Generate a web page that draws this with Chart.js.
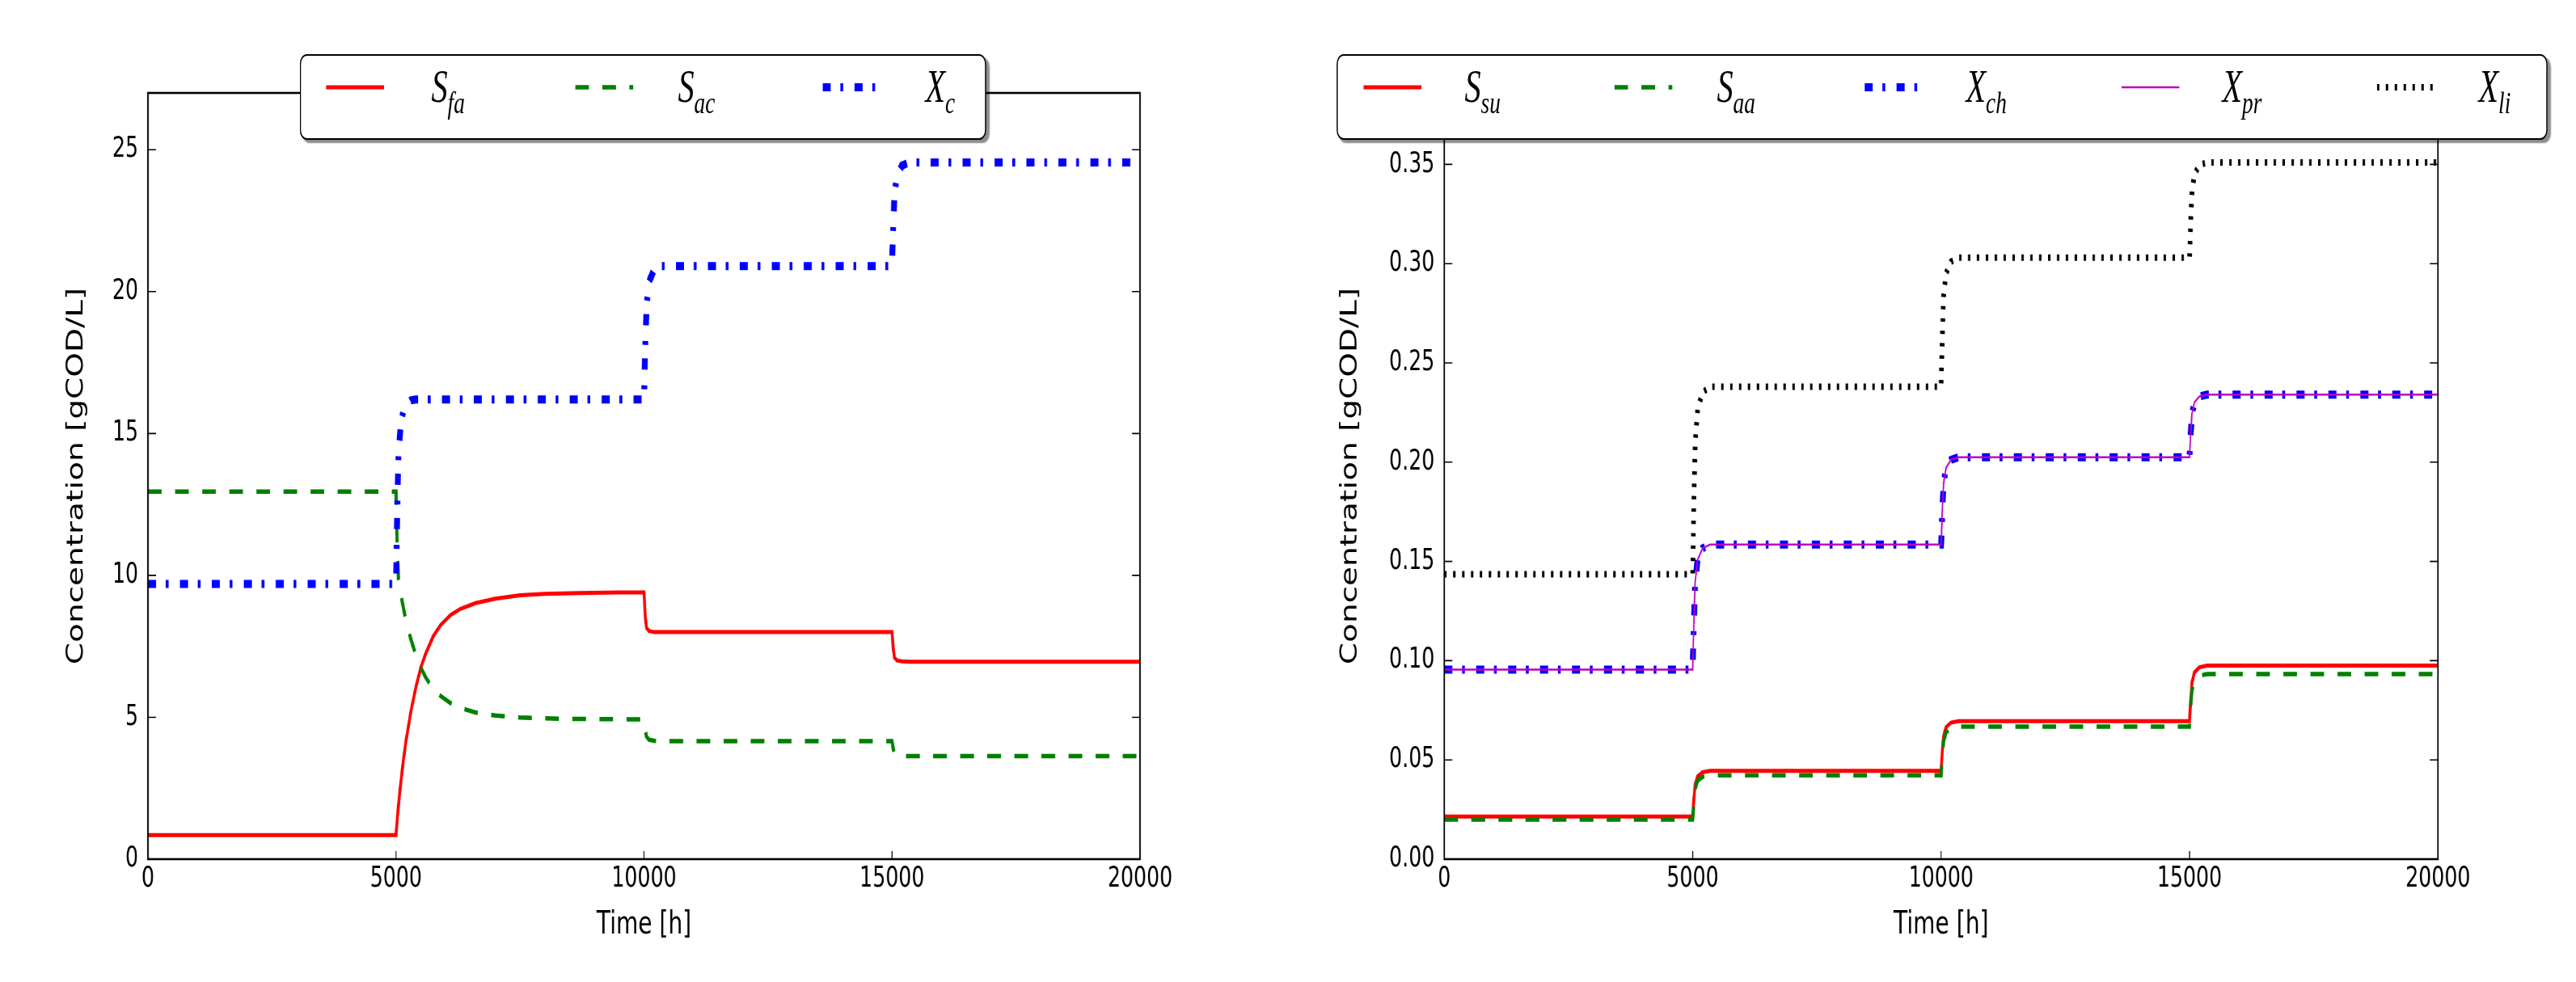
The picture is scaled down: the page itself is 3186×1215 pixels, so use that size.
<!DOCTYPE html>
<html>
<head>
<meta charset="utf-8">
<script src="https://cdn.jsdelivr.net/npm/chart.js@4.4.0/dist/chart.umd.min.js"></script>
<style>
html, body { margin: 0; padding: 0; background: #fff; overflow: hidden; }
#page { position: absolute; left: 0; top: 0; height: 1215px; transform-origin: 0 0; }
canvas { position: absolute; top: 0; }
.legend { position: absolute; top: 67px; height: 106px; background: #fff; border: 2.5px solid #000; border-radius: 12px; box-shadow: 5px 4px 2px rgba(0,0,0,0.45); box-sizing: border-box; }
.legend svg { position: absolute; top: 27px; }
.lab { position: absolute; top: 10px; font-family: "Liberation Serif", serif; font-style: italic; font-size: 56px; line-height: 56px; color: #000; white-space: nowrap; }
.lab span { font-size: 38px; position: relative; top: 14px; }
</style>
</head>
<body>
<div id="page">
  <canvas id="left"></canvas>
  <canvas id="right"></canvas>
  <div class="legend" id="legLeft"></div>
  <div class="legend" id="legRight"></div>
</div>
<script>
// ---- data ----
// left panel
var hoursL = [0, 5000, 5025, 5050, 5100, 5150, 5200, 5300, 5400, 5500, 5600, 5750, 5900, 6100, 6300, 6600, 7000, 7500, 8000, 8700, 9500,
              10000, 10025, 10050, 10100, 10200, 10350, 11000,
              15000, 15025, 15050, 15100, 15200, 15350, 20000];
var sFa = [0.85, 0.85, 1.4, 1.9, 2.75, 3.5, 4.15, 5.2, 6.05, 6.75, 7.25, 7.85, 8.25, 8.6, 8.82, 9.02, 9.18, 9.3, 9.35, 9.38, 9.4,
           9.4, 8.55, 8.15, 8.04, 8.0, 8.0, 8.0,
           8.0, 7.4, 7.1, 7.0, 6.97, 6.96, 6.96];
var sAc = [12.95, 12.95, 10.9, 9.85, 9.3, 8.85, 8.4, 7.75, 7.2, 6.75, 6.4, 6.0, 5.75, 5.5, 5.33, 5.17, 5.06, 4.99, 4.96, 4.94, 4.93,
           4.93, 4.55, 4.32, 4.21, 4.17, 4.16, 4.16,
           4.16, 3.88, 3.72, 3.66, 3.64, 3.63, 3.63];
var xC  = [9.7, 9.7, 12.3, 14.25, 15.4, 15.8, 16.0, 16.17, 16.2, 16.2, 16.2, 16.2, 16.2, 16.2, 16.2, 16.2, 16.2, 16.2, 16.2, 16.2, 16.2,
           16.2, 18.08, 19.49, 20.34, 20.76, 20.9, 20.9,
           20.9, 22.36, 23.46, 24.11, 24.44, 24.55, 24.55];

// right panel
var hoursR = [0, 5000, 5025, 5050, 5100, 5200, 5350,
              10000, 10025, 10050, 10100, 10200, 10350,
              15000, 15025, 15050, 15100, 15200, 15350, 20000];
var sSu = [0.0215, 0.0215, 0.0307, 0.0376, 0.0417, 0.0438, 0.0445,
           0.0445, 0.0545, 0.0620, 0.0665, 0.0688, 0.0695,
           0.0695, 0.0807, 0.0891, 0.0941, 0.0967, 0.0975, 0.0975];
var sAa = [0.0200, 0.0200, 0.0289, 0.0355, 0.0395, 0.0415, 0.0422,
           0.0422, 0.0520, 0.0594, 0.0638, 0.0661, 0.0668,
           0.0668, 0.0774, 0.0853, 0.0900, 0.0924, 0.0932, 0.0932];
var xCh = [0.0955, 0.0955, 0.1207, 0.1396, 0.1509, 0.1566, 0.1585,
           0.1585, 0.1761, 0.1893, 0.1972, 0.2012, 0.2025,
           0.2025, 0.2151, 0.2246, 0.2302, 0.2331, 0.2340, 0.2340];
var xPr = [0.0955, 0.0955, 0.1207, 0.1396, 0.1509, 0.1566, 0.1585,
           0.1585, 0.1761, 0.1893, 0.1972, 0.2012, 0.2025,
           0.2025, 0.2151, 0.2246, 0.2302, 0.2331, 0.2340, 0.2340];
var xLi = [0.1435, 0.1435, 0.1813, 0.2097, 0.2267, 0.2352, 0.2380,
           0.2380, 0.2640, 0.2835, 0.2952, 0.3010, 0.3030,
           0.3030, 0.3222, 0.3366, 0.3452, 0.3496, 0.3510, 0.3510];

// ticks
var xTicks = [0, 5000, 10000, 15000, 20000];
var yTicksL = [0, 5, 10, 15, 20, 25];
var yTicksR = [0, 0.05, 0.10, 0.15, 0.20, 0.25, 0.30, 0.35];

// ---- layout ----
// the reference figure is squeezed horizontally: draw wide, then scale x by K.
// all x positions below are in final (screen) pixels and get divided by K.
var K = 0.72;
var W = 3186, H = 1215;
var TOP = 115, BOTTOM = 1063;
var TICK_FONT = 35, TITLE_FONT = 39;
var FONT = "'DejaVu Sans', sans-serif";

var page = document.getElementById("page");
page.style.width = (W / K) + "px";
page.style.transform = "scaleX(" + K + ")";

// ---- styles (dash lengths in screen px) ----
var RED = { color: "#ff0000", width: 5, dash: [] };
var GREEN = { color: "#008000", width: 5.5, dash: [17, 16.5] };
var BLUE = { color: "#0000ff", width: 10, dash: [10, 12, 3.5, 14] };
var MAGENTA = { color: "#bf00bf", width: 2.5, dash: [] };
var BLACK = { color: "#000000", width: 8, dash: [3, 8] };

function dashL(d) { return d.map(function(v) { return v / K; }); }

function series(times, vals, sty, order) {
  return {
    data: times.map(function(t, i) { return { x: t, y: vals[i] }; }),
    borderColor: sty.color,
    borderWidth: sty.width,
    borderDash: dashL(sty.dash),
    pointRadius: 0,
    fill: false,
    tension: 0,
    order: order
  };
}

// box round the plot area with inward ticks on all four sides
var frame = {
  id: "frame",
  afterDraw: function(chart) {
    var ctx = chart.ctx, a = chart.chartArea, sx = chart.scales.x, sy = chart.scales.y;
    ctx.save();
    ctx.strokeStyle = "#000";
    ctx.lineWidth = 1.6;
    ctx.beginPath();
    sx.ticks.forEach(function(t) {
      var px = sx.getPixelForValue(t.value);
      ctx.moveTo(px, a.bottom); ctx.lineTo(px, a.bottom - 10);
      ctx.moveTo(px, a.top); ctx.lineTo(px, a.top + 10);
    });
    sy.ticks.forEach(function(t) {
      var py = sy.getPixelForValue(t.value);
      ctx.moveTo(a.left, py); ctx.lineTo(a.left + 10 / K, py);
      ctx.moveTo(a.right, py); ctx.lineTo(a.right - 10 / K, py);
    });
    ctx.stroke();
    ctx.lineWidth = 2.6;
    ctx.strokeRect(a.left, a.top, a.right - a.left, a.bottom - a.top);
    ctx.restore();
  }
};

// x0/x1: canvas span on screen; areaL/areaR: plot area; titleX: centre of the y title
function makeChart(id, x0, x1, areaL, areaR, titleX, datasets, yMax, yTicks, yFmt) {
  var cv = document.getElementById(id);
  var cw = Math.round((x1 - x0) / K);
  cv.width = cw; cv.height = H;
  cv.style.left = (x0 / K) + "px";
  var padL = (titleX - x0) / K - TITLE_FONT * 1.2 / 2;
  var axisW = (areaL - x0) / K - padL;
  var padR = cw - (areaR - x0) / K;
  return new Chart(cv, {
    type: "line",
    data: { datasets: datasets },
    options: {
      responsive: false,
      animation: false,
      devicePixelRatio: 1,
      layout: { padding: { left: padL, right: padR, top: TOP, bottom: 0 } },
      plugins: { legend: { display: false }, tooltip: { enabled: false } },
      scales: {
        x: {
          type: "linear", min: 0, max: 20000,
          afterBuildTicks: function(s) { s.ticks = xTicks.map(function(v) { return { value: v }; }); },
          afterFit: function(s) { s.height = H - BOTTOM; },
          ticks: { color: "#000", font: { family: FONT, size: TICK_FONT }, padding: 4, maxRotation: 0, autoSkip: false,
                   callback: function(v) { return String(v); } },
          grid: { display: false, drawTicks: false },
          border: { display: false },
          title: { display: true, text: "Time [h]", color: "#000", font: { family: FONT, size: TITLE_FONT }, padding: { top: 0, bottom: 47 } }
        },
        y: {
          type: "linear", min: 0, max: yMax,
          afterBuildTicks: function(s) { s.ticks = yTicks.map(function(v) { return { value: v }; }); },
          afterFit: function(s) { s.width = axisW; },
          ticks: { color: "#000", font: { family: FONT, size: TICK_FONT }, padding: 12 / K, autoSkip: false, callback: yFmt },
          grid: { display: false, drawTicks: false },
          border: { display: false },
          title: { display: true, text: "Concentration [gCOD/L]", color: "#000", font: { family: FONT, size: TITLE_FONT }, padding: { top: 0, bottom: 0 } }
        }
      }
    },
    plugins: [frame]
  });
}

makeChart("left", 0, 1560, 183, 1410, 95, [
  series(hoursL, sFa, RED, 3),
  series(hoursL, sAc, GREEN, 2),
  series(hoursL, xC, BLUE, 1)
], 27, yTicksL, function(v) { return String(v); });

makeChart("right", 1560, W, 1786, 3015, 1670, [
  series(hoursR, sSu, RED, 5),
  series(hoursR, sAa, GREEN, 4),
  series(hoursR, xCh, BLUE, 3),
  series(hoursR, xPr, MAGENTA, 2),
  series(hoursR, xLi, BLACK, 1)
], 0.386, yTicksR, function(v) { return v.toFixed(2); });

// ---- legends (positions in screen px) ----
function legend(id, left, width, items) {
  var box = document.getElementById(id);
  box.style.left = (left / K) + "px";
  box.style.width = (width / K) + "px";
  items.forEach(function(it) {
    var s = it.style, len = 72 / K;
    var svg = '<svg width="' + len + '" height="24" style="left:' + (it.sx / K) + 'px">' +
      '<line x1="0" y1="12" x2="' + len + '" y2="12" stroke="' + s.color + '" stroke-width="' + s.width + '"' +
      (s.dash.length ? ' stroke-dasharray="' + dashL(s.dash).join(",") + '"' : '') + '/></svg>';
    box.insertAdjacentHTML("beforeend", svg +
      '<div class="lab" style="left:' + (it.lx / K) + 'px">' + it.main + '<span>' + it.sub + '</span></div>');
  });
}

legend("legLeft", 371, 849, [
  { main: "S", sub: "fa", style: RED, sx: 31, lx: 161 },
  { main: "S", sub: "ac", style: GREEN, sx: 339, lx: 466 },
  { main: "X", sub: "c", style: BLUE, sx: 645, lx: 772 }
]);
legend("legRight", 1653, 1498, [
  { main: "S", sub: "su", style: RED, sx: 32, lx: 157 },
  { main: "S", sub: "aa", style: GREEN, sx: 342, lx: 469 },
  { main: "X", sub: "ch", style: BLUE, sx: 652, lx: 777 },
  { main: "X", sub: "pr", style: MAGENTA, sx: 969, lx: 1094 },
  { main: "X", sub: "li", style: BLACK, sx: 1285, lx: 1411 }
]);
</script>
</body>
</html>
